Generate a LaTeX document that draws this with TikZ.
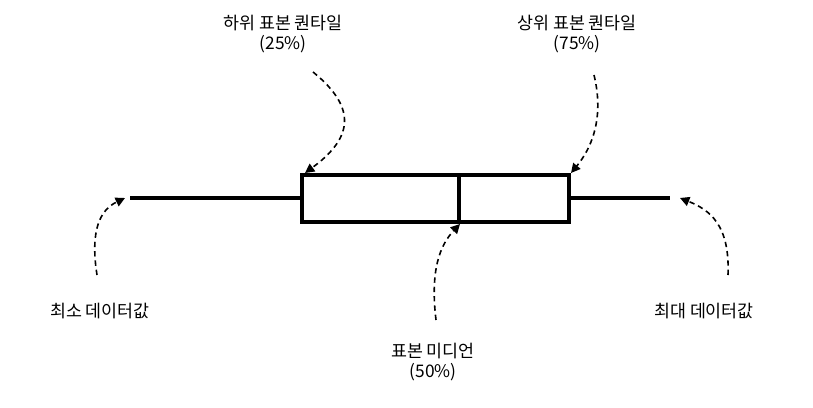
\documentclass[tikz,border=0pt]{standalone}
\usepackage{fontspec}
\setmainfont{Noto Sans CJK KR}
\usetikzlibrary{arrows.meta}
\begin{document}
\begin{tikzpicture}[x=0.75pt,y=-0.75pt,
  lbl/.style={font=\fontsize{13pt}{15pt}\selectfont,align=center,inner sep=1pt},
  ptr/.style={line width=1.2pt,-{Triangle[length=7pt,width=7pt]},dash pattern=on 4pt off 3pt},
  thick box/.style={line width=2.6pt}]
\useasboundingbox (0,0) rectangle (813,407);
\draw[thick box] (302,175) rectangle (569,222);
\draw[thick box] (459,175) -- (459,222);
\coordinate (lw) at (130,198); \coordinate (lb) at (302,198);
\coordinate (rb) at (569,198); \coordinate (rw) at (670,198);
\draw[thick box] (lw) -- (lb);
\draw[thick box] (rb) -- (rw);
\node[lbl] (q1) at (283,34) {하위 표본 퀀타일\\(25\%)};
\node[lbl] (q3) at (577,34) {상위 표본 퀀타일\\(75\%)};
\node[lbl] (mn) at (100,311) {최소 데이터값};
\node[lbl] (mx) at (704,311) {최대 데이터값};
\node[lbl] (md) at (433,362) {표본 미디언\\(50\%)};
\coordinate (a1) at (305,173); \coordinate (a3) at (571,173);
\coordinate (amin) at (125,198); \coordinate (amax) at (680,198);
\coordinate (amd) at (460,224);
\draw[ptr] (313,72) .. controls (360,110) and (350,140) .. (a1);
\draw[ptr] (594,75) .. controls (605,120) and (590,150) .. (a3);
\draw[ptr] (97,275) .. controls (90,230) and (100,210) .. (amin);
\draw[ptr] (728,275) .. controls (730,225) and (710,210) .. (amax);
\draw[ptr] (436,320) .. controls (430,270) and (440,245) .. (amd);
\end{tikzpicture}
\end{document}
